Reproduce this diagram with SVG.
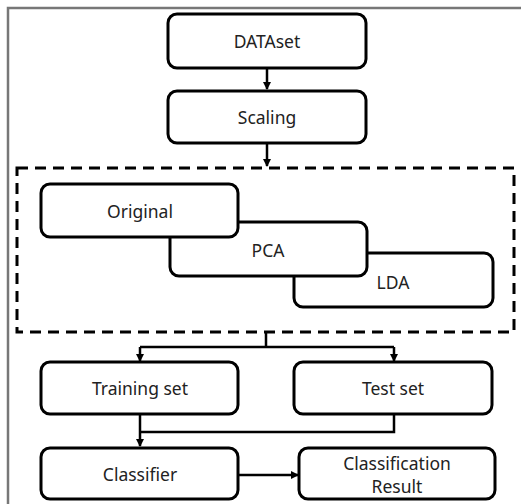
<svg xmlns="http://www.w3.org/2000/svg" width="521" height="504" viewBox="0 0 521 504">
<defs>
<style>
.n{fill:#fff;stroke:#000;stroke-width:3}
.t{font-family:"Noto Sans","Open Sans",sans-serif;font-size:17.5px;fill:#222;text-anchor:middle}
.c{fill:none;stroke:#000;stroke-width:2.5}
</style>
<marker id="ah" markerWidth="8" markerHeight="8" refX="7" refY="4" orient="auto" markerUnits="userSpaceOnUse">
<path d="M0,0 L8,4 L0,8 Z" fill="#000"/>
</marker>
</defs>
<rect width="521" height="504" fill="#fff"/>
<path d="M8,504 V8 H521" fill="none" stroke="#777" stroke-width="2.5"/>
<g id="group-box">
<rect x="17" y="168" width="497" height="164" fill="none" stroke="#000" stroke-width="3" stroke-dasharray="11,7"/>
</g>
<g id="connectors">
<path class="c" d="M267,69 V89" marker-end="url(#ah)"/>
<path class="c" d="M267,144 V166" marker-end="url(#ah)"/>
<path class="c" d="M266,333 V347 M140,347 H394"/>
<path class="c" d="M140,347 V361" marker-end="url(#ah)"/>
<path class="c" d="M394,347 V361" marker-end="url(#ah)"/>
<path class="c" d="M140,415 V446" marker-end="url(#ah)"/>
<path class="c" d="M394,415 V432 H140"/>
<path class="c" d="M238,475 H298" marker-end="url(#ah)"/>
</g>
<g id="dataset">
<rect class="n" x="168" y="14" width="198" height="54" rx="9"/>
<text class="t" x="267" y="48">DATAset</text>
</g>
<g id="scaling">
<rect class="n" x="168" y="91" width="198" height="52" rx="9"/>
<text class="t" x="267" y="124">Scaling</text>
</g>
<g id="lda">
<rect class="n" x="294" y="253" width="199" height="54" rx="9"/>
<text class="t" x="393" y="289">LDA</text>
</g>
<g id="pca">
<rect class="n" x="170" y="222" width="197" height="54" rx="9"/>
<text class="t" x="268" y="257">PCA</text>
</g>
<g id="original">
<rect class="n" x="41" y="184" width="197" height="53" rx="9"/>
<text class="t" x="140" y="218">Original</text>
</g>
<g id="training">
<rect class="n" x="41" y="362" width="197" height="52" rx="9"/>
<text class="t" x="140" y="395">Training set</text>
</g>
<g id="test">
<rect class="n" x="294" y="362" width="198" height="52" rx="9"/>
<text class="t" x="393" y="395">Test set</text>
</g>
<g id="classifier">
<rect class="n" x="41" y="448" width="197" height="51" rx="9"/>
<text class="t" x="140" y="481">Classifier</text>
</g>
<g id="result">
<rect class="n" x="299" y="448" width="196" height="51" rx="9"/>
<text class="t" x="397" y="470">Classification</text>
<text class="t" x="397" y="493">Result</text>
</g>
</svg>
